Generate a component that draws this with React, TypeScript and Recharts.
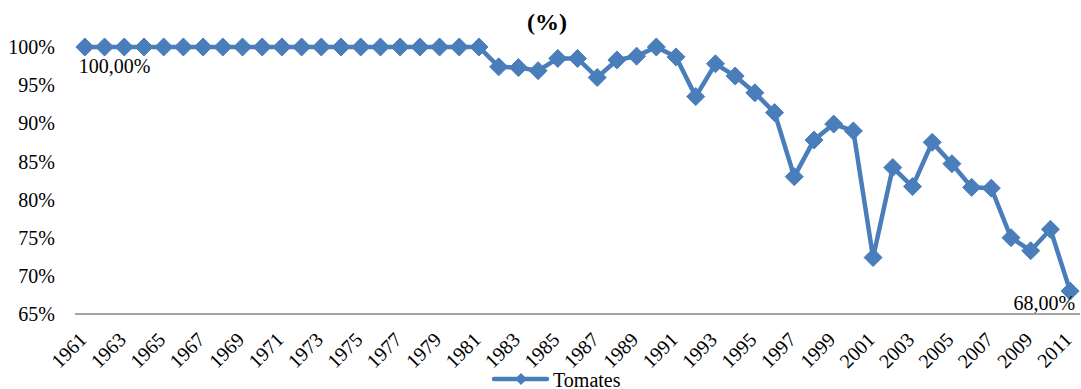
import React from "react";
import { LineChart, Line, XAxis, YAxis, Legend, LabelList } from "recharts";

const years = [
  "1961","1962","1963","1964","1965","1966","1967","1968","1969","1970",
  "1971","1972","1973","1974","1975","1976","1977","1978","1979","1980",
  "1981","1982","1983","1984","1985","1986","1987","1988","1989","1990",
  "1991","1992","1993","1994","1995","1996","1997","1998","1999","2000",
  "2001","2002","2003","2004","2005","2006","2007","2008","2009","2010","2011",
];

const tomates = [
  100, 100, 100, 100, 100, 100, 100, 100, 100, 100,
  100, 100, 100, 100, 100, 100, 100, 100, 100, 100,
  100, 97.4, 97.3, 96.9, 98.5, 98.5, 96.0, 98.3, 98.8, 100,
  98.7, 93.5, 97.8, 96.2, 94.0, 91.4, 83.0, 87.8, 89.9, 89.0,
  72.4, 84.2, 81.7, 87.5, 84.7, 81.6, 81.5, 75.0, 73.3, 76.1, 68.0,
];

const yTicks = [65, 70, 75, 80, 85, 90, 95, 100];
const seriesName = "Tomates";
const title = "(%)";

const data = years.map((y, i) => ({ year: y, value: tomates[i] }));

const FONT = "'Liberation Serif', 'Times New Roman', serif";
const BLUE = "#4a7ebb";
const FS = 20;

const Diamond = (props: any) => {
  const { cx, cy } = props;
  if (cx == null || cy == null) return null;
  const r = 9;
  return (
    <polygon
      points={`${cx},${cy - r} ${cx + r},${cy} ${cx},${cy + r} ${cx - r},${cy}`}
      fill={BLUE}
      stroke={BLUE}
      strokeWidth={1}
    />
  );
};

const XTick = (props: any) => {
  const { x, y, payload } = props;
  return (
    <g transform={`translate(${x + 3},${y + 27})`}>
      <text
        x={0}
        y={0}
        transform="rotate(-45)"
        textAnchor="end"
        fontFamily={FONT}
        fontSize={FS}
        fill="#000"
      >
        {payload.value}
      </text>
    </g>
  );
};

const fmt = (v: number) => v.toFixed(2).replace(".", ",") + "%";

const EndLabel = (props: any) => {
  const { x, y, value, index } = props;
  if (index === 0) {
    return (
      <text x={x - 6} y={y + 26} textAnchor="start" fontFamily={FONT} fontSize={FS} fill="#000">
        {fmt(value)}
      </text>
    );
  }
  if (index === tomates.length - 1) {
    return (
      <text x={x + 5} y={y + 19} textAnchor="end" fontFamily={FONT} fontSize={FS} fill="#000">
        {fmt(value)}
      </text>
    );
  }
  return null;
};

const LegendContent = () => (
  <div style={{ position: "relative", width: 1081, height: 20 }}>
    <svg width={60} height={20} style={{ position: "absolute", left: 491, top: 0 }}>
      <line x1={3} y1={10} x2={56} y2={10} stroke={BLUE} strokeWidth={4.5} strokeLinecap="round" />
      <polygon points="30,4 36,10 30,16 24,10" fill={BLUE} />
    </svg>
    <span
      style={{
        position: "absolute",
        left: 553,
        top: 1,
        lineHeight: "20px",
        fontFamily: FONT,
        fontSize: FS,
        color: "#000",
        whiteSpace: "nowrap",
      }}
    >
      {seriesName}
    </span>
  </div>
);

export default function App() {
  return (
    <div style={{ position: "absolute", left: 0, top: 0, width: 1081, height: 389, background: "#fff" }}>
      <LineChart width={1081} height={389} data={data} margin={{ top: 47, right: 1, bottom: 0, left: 0 }}>
        <XAxis
          dataKey="year"
          scale="band"
          interval={1}
          tick={<XTick />}
          tickLine={false}
          tickSize={0}
          tickMargin={0}
          axisLine={{ stroke: "#868686", strokeWidth: 1.5 }}
          height={55}
        />
        <YAxis
          domain={[65, 100]}
          ticks={yTicks}
          width={75}
          axisLine={false}
          tickLine={false}
          tickSize={0}
          tickMargin={20}
          tickFormatter={(v: number) => `${v}%`}
          tick={{ fontFamily: FONT, fontSize: FS, fill: "#000" }}
        />
        <Legend verticalAlign="bottom" align="left" content={<LegendContent />} height={20} />
        <Line
          type="linear"
          dataKey="value"
          name={seriesName}
          stroke={BLUE}
          strokeWidth={4.5}
          dot={<Diamond />}
          activeDot={false}
          isAnimationActive={false}
        >
          <LabelList dataKey="value" content={<EndLabel />} />
        </Line>
      </LineChart>
      <svg
        width={1081}
        height={45}
        style={{ position: "absolute", left: 0, top: 0, pointerEvents: "none" }}
      >
        <text x={547} y={30} textAnchor="middle" fontFamily={FONT} fontWeight="bold" fontSize={24} fill="#000">
          {title}
        </text>
      </svg>
    </div>
  );
}
